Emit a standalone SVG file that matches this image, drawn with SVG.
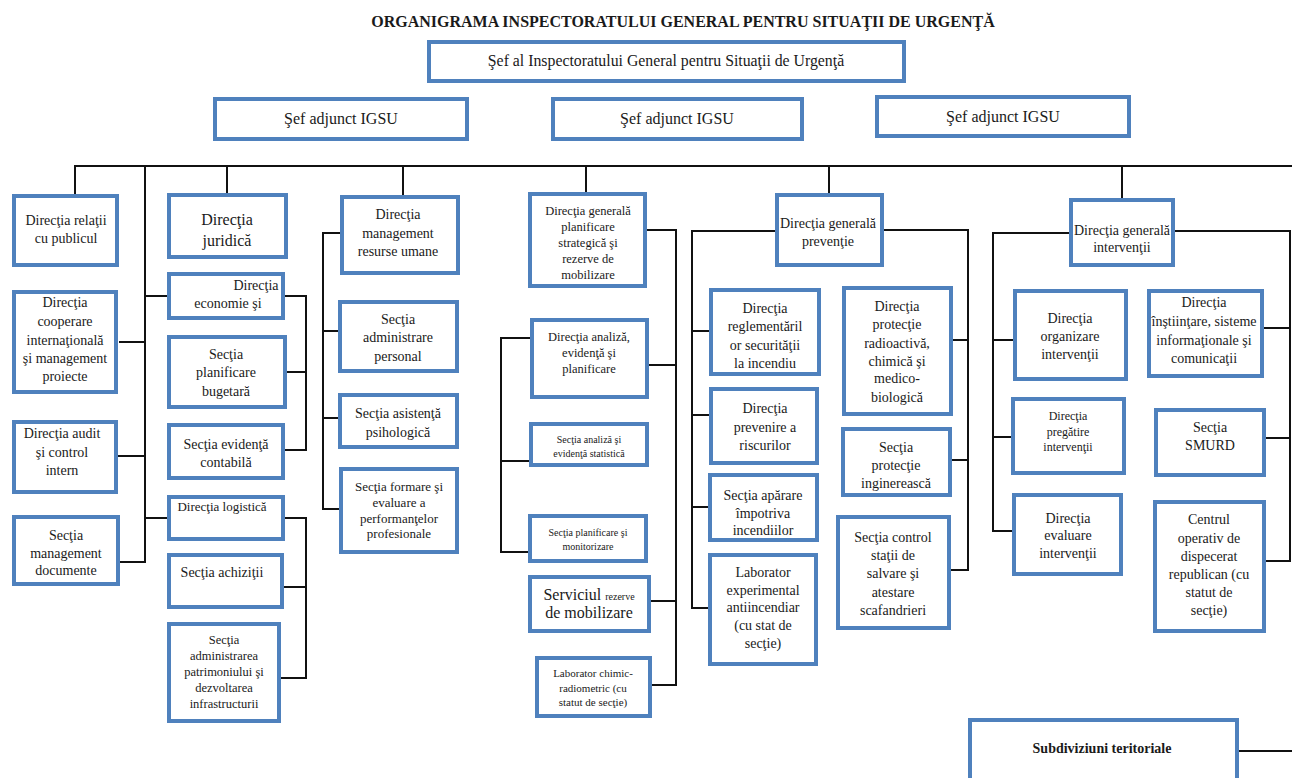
<svg xmlns="http://www.w3.org/2000/svg" width="1292" height="778" viewBox="0 0 1292 778">
  <style>
    .box { fill: #ffffff; stroke: #4f81bd; stroke-width: 4; }
    .t { font-family: "Liberation Serif", "Times New Roman", serif; fill: #1a1a1a; text-anchor: middle; font-size: 14px; }
    .s16 { font-size: 16px; }
    .s15 { font-size: 15.8px; }
    .s13 { font-size: 13px; }
    .s125 { font-size: 12.5px; }
    .s12 { font-size: 12px; }
    .s11 { font-size: 11px; }
    .s10 { font-size: 10px; }
    .b { font-weight: bold; }
    .wire { fill: none; stroke: #111111; stroke-width: 2; }
  </style>

  <rect x="0" y="0" width="1292" height="778" fill="#ffffff"/>

  <text class="t b s16" x="683" y="27">ORGANIGRAMA INSPECTORATULUI GENERAL PENTRU SITUAŢII DE URGENŢĂ</text>

  <!-- connectors -->
  <g id="connectors" class="wire">
    <path d="M75,194 V166 H1292"/>
    <!-- left column spine -->
    <path d="M145,166 V562 H120"/>
    <path d="M119,342 H145 M118,456 H145 M145,296 H167 M145,518 H167"/>
    <!-- economics and logistics brackets -->
    <path d="M227,166 V193"/>
    <path d="M285,296 H306 V450 H285 M287,372 H306"/>
    <path d="M285,518 H306 V678 H281 M284,587 H306"/>
    <!-- human resources -->
    <path d="M403,166 V195"/>
    <path d="M340,233 H323 V509 H339 M323,331 H338 M323,418 H338"/>
    <!-- strategic planning -->
    <path d="M586,166 V192"/>
    <path d="M647,230 H676 V685 H652 M649,365 H676 M651,601 H676"/>
    <path d="M530,338 H501 V552 H528 M501,461 H529"/>
    <!-- prevention -->
    <path d="M829,166 V193"/>
    <path d="M775,231 H692 V608 H708 M692,331 H709 M692,415 H709 M692,507 H708"/>
    <path d="M884,230 H968 V570 H951 M953,340 H968 M952,460 H968"/>
    <!-- interventions -->
    <path d="M1122,166 V198"/>
    <path d="M1069,233 H993 V531 H1012 M993,340 H1013 M993,437 H1011"/>
    <path d="M1175,231 H1290 V561 H1266 M1264,328 H1290 M1266,438 H1290"/>
    <path d="M1239,751 H1292"/>
  </g>

  <!-- top level -->
  <g id="sef-igsu">
    <rect class="box" x="429" y="42" width="475" height="39"/>
    <text class="t s15" x="666" y="66">Şef al Inspectoratului General pentru Situaţii de Urgenţă</text>
  </g>
  <g id="adjunct-1">
    <rect class="box" x="215" y="99" width="252" height="40"/>
    <text class="t s16" x="341" y="124">Şef adjunct IGSU</text>
  </g>
  <g id="adjunct-2">
    <rect class="box" x="553" y="99" width="249" height="40"/>
    <text class="t s16" x="677" y="124">Şef adjunct IGSU</text>
  </g>
  <g id="adjunct-3">
    <rect class="box" x="877" y="97" width="252" height="39"/>
    <text class="t s16" x="1003" y="122">Şef adjunct IGSU</text>
  </g>

  <!-- column 1 -->
  <g id="relatii-publicul">
    <rect class="box" x="14" y="196" width="103" height="69"/>
    <text class="t" x="66" y="225"><tspan x="66">Direcţia relaţii</tspan><tspan x="66" dy="18">cu publicul</tspan></text>
  </g>
  <g id="cooperare-internationala">
    <rect class="box" x="14" y="292" width="102" height="100"/>
    <text class="t" x="65" y="307"><tspan x="65">Direcţia</tspan><tspan x="65" dy="19">cooperare</tspan><tspan x="65" dy="19">internaţională</tspan><tspan x="65" dy="18">şi management</tspan><tspan x="65" dy="18">proiecte</tspan></text>
  </g>
  <g id="audit-control">
    <rect class="box" x="14" y="422" width="102" height="70"/>
    <text class="t" x="62" y="438"><tspan x="62">Direcţia audit</tspan><tspan x="62" dy="19">şi control</tspan><tspan x="62" dy="18">intern</tspan></text>
  </g>
  <g id="management-documente">
    <rect class="box" x="14" y="517" width="104" height="67"/>
    <text class="t" x="66" y="540"><tspan x="66">Secţia</tspan><tspan x="66" dy="18">management</tspan><tspan x="66" dy="17">documente</tspan></text>
  </g>

  <!-- column 2 -->
  <g id="juridica">
    <rect class="box" x="169" y="195" width="117" height="62"/>
    <text class="t s16" x="227" y="225"><tspan x="227">Direcţia</tspan><tspan x="227" dy="21">juridică</tspan></text>
  </g>
  <g id="economie-finante">
    <rect class="box" x="169" y="274" width="114" height="44"/>
    <text class="t" x="256" y="290">Direcţia</text>
    <text class="t" x="228" y="308">economie şi</text>
  </g>
  <g id="planificare-bugetara">
    <rect class="box" x="169" y="337" width="116" height="70"/>
    <text class="t" x="226" y="359"><tspan x="226">Secţia</tspan><tspan x="226" dy="18">planificare</tspan><tspan x="226" dy="19">bugetară</tspan></text>
  </g>
  <g id="evidenta-contabila">
    <rect class="box" x="169" y="425" width="114" height="53"/>
    <text class="t" x="226" y="449"><tspan x="226">Secţia evidenţă</tspan><tspan x="226" dy="18">contabilă</tspan></text>
  </g>
  <g id="logistica">
    <rect class="box" x="169" y="497" width="114" height="42"/>
    <text class="t s13" x="222" y="511">Direcţia logistică</text>
  </g>
  <g id="achizitii">
    <rect class="box" x="169" y="555" width="113" height="52"/>
    <text class="t" x="222" y="577">Secţia achiziţii</text>
  </g>
  <g id="administrare-patrimoniu">
    <rect class="box" x="169" y="624" width="110" height="97"/>
    <text class="t s125" x="224" y="644"><tspan x="224">Secţia</tspan><tspan x="224" dy="16">administrarea</tspan><tspan x="224" dy="16">patrimoniului şi</tspan><tspan x="224" dy="16">dezvoltarea</tspan><tspan x="224" dy="16">infrastructurii</tspan></text>
  </g>

  <!-- column 3 -->
  <g id="resurse-umane">
    <rect class="box" x="342" y="197" width="116" height="76"/>
    <text class="t" x="398" y="219"><tspan x="398">Direcţia</tspan><tspan x="398" dy="19">management</tspan><tspan x="398" dy="18">resurse umane</tspan></text>
  </g>
  <g id="administrare-personal">
    <rect class="box" x="340" y="302" width="117" height="69"/>
    <text class="t" x="398" y="324"><tspan x="398">Secţia</tspan><tspan x="398" dy="18">administrare</tspan><tspan x="398" dy="19">personal</tspan></text>
  </g>
  <g id="asistenta-psihologica">
    <rect class="box" x="340" y="395" width="117" height="52"/>
    <text class="t" x="398" y="418"><tspan x="398">Secţia asistenţă</tspan><tspan x="398" dy="19">psihologică</tspan></text>
  </g>
  <g id="formare-evaluare">
    <rect class="box" x="341" y="469" width="116" height="83"/>
    <text class="t s13" x="399" y="491"><tspan x="399">Secţia formare şi</tspan><tspan x="399" dy="16">evaluare a</tspan><tspan x="399" dy="15.5">performanţelor</tspan><tspan x="399" dy="15.5">profesionale</tspan></text>
  </g>

  <!-- column 4 -->
  <g id="planificare-strategica">
    <rect class="box" x="530" y="194" width="115" height="92"/>
    <text class="t s125" x="588" y="215"><tspan x="588">Direcţia generală</tspan><tspan x="588" dy="16">planificare</tspan><tspan x="588" dy="16">strategică şi</tspan><tspan x="588" dy="16">rezerve de</tspan><tspan x="588" dy="16">mobilizare</tspan></text>
  </g>
  <g id="analiza-evidenta">
    <rect class="box" x="532" y="320" width="115" height="77"/>
    <text class="t s125" x="589" y="341"><tspan x="589">Direcţia analiză,</tspan><tspan x="589" dy="16">evidenţă şi</tspan><tspan x="589" dy="16">planificare</tspan></text>
  </g>
  <g id="evidenta-statistica">
    <rect class="box" x="531" y="424" width="116" height="41"/>
    <text class="t s10" x="589" y="442.5"><tspan x="589">Secţia analiză şi</tspan><tspan x="589" dy="14">evidenţă statistică</tspan></text>
  </g>
  <g id="planificare-monitorizare">
    <rect class="box" x="530" y="516" width="116" height="45"/>
    <text class="t s10" x="588" y="536"><tspan x="588">Secţia planificare şi</tspan><tspan x="588" dy="14">monitorizare</tspan></text>
  </g>
  <g id="rezerve-mobilizare">
    <rect class="box" x="530" y="577" width="119" height="54"/>
    <text class="t s16" x="589" y="600"><tspan x="589">Serviciul <tspan class="s10">rezerve</tspan></tspan><tspan x="589" dy="18">de mobilizare</tspan></text>
  </g>
  <g id="laborator-chimic">
    <rect class="box" x="537" y="658" width="113" height="58"/>
    <text class="t s11" x="593" y="677"><tspan x="593">Laborator chimic-</tspan><tspan x="593" dy="15">radiometric (cu</tspan><tspan x="593" dy="14">statut de secţie)</tspan></text>
  </g>

  <!-- column 5 -->
  <g id="dg-preventie">
    <rect class="box" x="777" y="195" width="105" height="70"/>
    <text class="t" x="828" y="228"><tspan x="828">Direcţia generală</tspan><tspan x="828" dy="18">prevenţie</tspan></text>
  </g>
  <g id="reglementari-securitate">
    <rect class="box" x="711" y="290" width="108" height="84"/>
    <text class="t" x="765" y="313"><tspan x="765">Direcţia</tspan><tspan x="765" dy="18">reglementăril</tspan><tspan x="765" dy="19">or securităţii</tspan><tspan x="765" dy="18">la incendiu</tspan></text>
  </g>
  <g id="protectie-radioactiva">
    <rect class="box" x="844" y="288" width="107" height="126"/>
    <text class="t" x="897" y="311"><tspan x="897">Direcţia</tspan><tspan x="897" dy="18">protecţie</tspan><tspan x="897" dy="19">radioactivă,</tspan><tspan x="897" dy="18">chimică  şi</tspan><tspan x="897" dy="17">medico-</tspan><tspan x="897" dy="19">biologică</tspan></text>
  </g>
  <g id="prevenire-riscuri">
    <rect class="box" x="711" y="389" width="106" height="74"/>
    <text class="t" x="765" y="413"><tspan x="765">Direcţia</tspan><tspan x="765" dy="19">prevenire a</tspan><tspan x="765" dy="18">riscurilor</tspan></text>
  </g>
  <g id="protectie-inginereasca">
    <rect class="box" x="843" y="429" width="107" height="66"/>
    <text class="t" x="896" y="452"><tspan x="896">Secţia</tspan><tspan x="896" dy="18">protecţie</tspan><tspan x="896" dy="18">inginerească</tspan></text>
  </g>
  <g id="aparare-incendii">
    <rect class="box" x="710" y="475" width="107" height="65"/>
    <text class="t" x="763" y="500"><tspan x="763">Secţia apărare</tspan><tspan x="763" dy="18">împotriva</tspan><tspan x="763" dy="17">incendiilor</tspan></text>
  </g>
  <g id="laborator-experimental">
    <rect class="box" x="710" y="555" width="106" height="109"/>
    <text class="t" x="763" y="577"><tspan x="763">Laborator</tspan><tspan x="763" dy="18">experimental</tspan><tspan x="763" dy="17">antiincendiar</tspan><tspan x="763" dy="18">(cu stat de</tspan><tspan x="763" dy="18">secţie)</tspan></text>
  </g>
  <g id="control-statii-salvare">
    <rect class="box" x="838" y="517" width="111" height="111"/>
    <text class="t" x="893" y="542"><tspan x="893">Secţia control</tspan><tspan x="893" dy="18">staţii de</tspan><tspan x="893" dy="18">salvare şi</tspan><tspan x="893" dy="19">atestare</tspan><tspan x="893" dy="18">scafandrieri</tspan></text>
  </g>

  <!-- column 6 -->
  <g id="dg-interventii">
    <rect class="box" x="1071" y="200" width="102" height="65"/>
    <text class="t" x="1122" y="235"><tspan x="1122">Direcţia generală</tspan><tspan x="1122" dy="17">intervenţii</tspan></text>
  </g>
  <g id="organizare-interventii">
    <rect class="box" x="1015" y="291" width="111" height="88"/>
    <text class="t" x="1070" y="323"><tspan x="1070">Direcţia</tspan><tspan x="1070" dy="18">organizare</tspan><tspan x="1070" dy="18">intervenţii</tspan></text>
  </g>
  <g id="instiintare-sisteme">
    <rect class="box" x="1149" y="291" width="113" height="85"/>
    <text class="t" x="1204" y="307"><tspan x="1204">Direcţia</tspan><tspan x="1204" dy="19">înştiinţare, sisteme</tspan><tspan x="1204" dy="19">informaţionale şi</tspan><tspan x="1204" dy="18">comunicaţii</tspan></text>
  </g>
  <g id="pregatire-interventii">
    <rect class="box" x="1013" y="399" width="111" height="74"/>
    <text class="t s12" x="1068" y="420"><tspan x="1068">Direcţia</tspan><tspan x="1068" dy="16">pregătire</tspan><tspan x="1068" dy="15">intervenţii</tspan></text>
  </g>
  <g id="smurd">
    <rect class="box" x="1156" y="410" width="108" height="65"/>
    <text class="t" x="1210" y="432"><tspan x="1210">Secţia</tspan><tspan x="1210" dy="18">SMURD</tspan></text>
  </g>
  <g id="evaluare-interventii">
    <rect class="box" x="1014" y="495" width="107" height="79"/>
    <text class="t" x="1068" y="523"><tspan x="1068">Direcţia</tspan><tspan x="1068" dy="17">evaluare</tspan><tspan x="1068" dy="18">intervenţii</tspan></text>
  </g>
  <g id="centrul-dispecerat">
    <rect class="box" x="1155" y="502" width="109" height="129"/>
    <text class="t" x="1209" y="524"><tspan x="1209">Centrul</tspan><tspan x="1209" dy="19">operativ de</tspan><tspan x="1209" dy="18">dispecerat</tspan><tspan x="1209" dy="18">republican (cu</tspan><tspan x="1209" dy="18">statut de</tspan><tspan x="1209" dy="18">secţie)</tspan></text>
  </g>
  <g id="subdiviziuni-teritoriale">
    <rect class="box" x="970" y="720" width="267" height="70"/>
    <text class="t b" x="1102" y="753">Subdiviziuni teritoriale</text>
  </g>
</svg>
